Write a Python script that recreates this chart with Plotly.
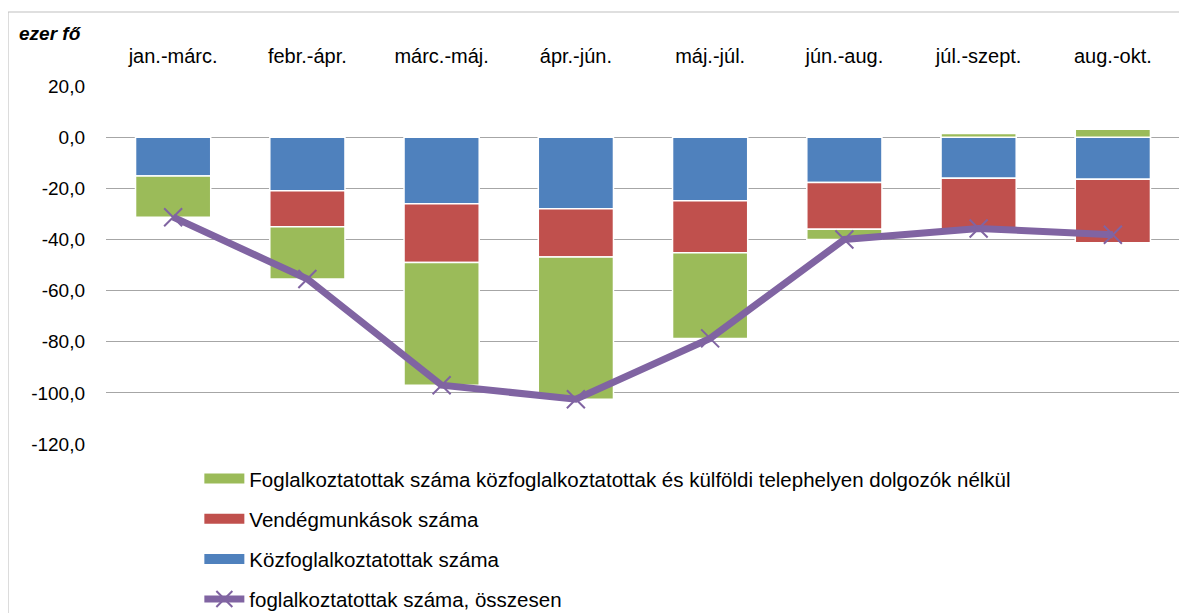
import plotly.graph_objects as go

categories = ["jan.-márc.", "febr.-ápr.", "márc.-máj.", "ápr.-jún.", "máj.-júl.", "jún.-aug.", "júl.-szept.", "aug.-okt."]
kozfoglalkoztatottak = [-15.2, -21.0, -26.0, -28.0, -24.9, -17.7, -16.1, -16.5]
vendegmunkasok = [0.0, -14.0, -23.0, -18.9, -20.3, -18.3, -21.0, -24.8]
foglalkoztatottak_nelkul = [-16.1, -20.5, -48.0, -55.6, -33.5, -4.0, 1.4, 3.1]
osszesen = [-31.3, -55.5, -97.0, -102.5, -78.7, -40.0, -35.7, -38.2]

y_tickvals = [20, 0, -20, -40, -60, -80, -100, -120]
y_ticktext = ["20,0", "0,0", "-20,0", "-40,0", "-60,0", "-80,0", "-100,0", "-120,0"]

names = {
    "green": "Foglalkoztatottak száma közfoglalkoztatottak és külföldi telephelyen dolgozók nélkül",
    "red": "Vendégmunkások száma",
    "blue": "Közfoglalkoztatottak száma",
    "line": "foglalkoztatottak száma, összesen",
}
colors = {"green": "#9BBB59", "red": "#C0504D", "blue": "#4F81BD", "line": "#8064A2"}

FONT = "Liberation Sans, Arial, sans-serif"
bar_line = dict(color="white", width=1.5)

fig = go.Figure()
fig.add_trace(go.Bar(x=categories, y=kozfoglalkoztatottak, name=names["blue"],
                     marker=dict(color=colors["blue"], line=bar_line), showlegend=False))
fig.add_trace(go.Bar(x=categories, y=vendegmunkasok, name=names["red"],
                     marker=dict(color=colors["red"], line=bar_line), showlegend=False))
fig.add_trace(go.Bar(x=categories, y=foglalkoztatottak_nelkul, name=names["green"],
                     marker=dict(color=colors["green"], line=bar_line), showlegend=False))
fig.add_trace(go.Scatter(x=categories, y=osszesen, name=names["line"], mode="lines+markers",
                         line=dict(color=colors["line"], width=7),
                         marker=dict(symbol="x-thin", size=18, color=colors["line"],
                                     line=dict(color=colors["line"], width=2)),
                         legendrank=4, legendgroup="d"))

# legend-only entries with wide swatches, as in the original
for rank, key in enumerate(["green", "red", "blue"], start=1):
    fig.add_trace(go.Scatter(x=[None], y=[None], mode="lines", name=names[key],
                             line=dict(color=colors[key], width=12),
                             legendrank=rank, legendgroup=key, hoverinfo="skip"))

fig.update_layout(
    width=1179, height=605,
    barmode="relative", bargap=0.44,
    plot_bgcolor="white", paper_bgcolor="white",
    font=dict(family=FONT, size=19, color="#000000"),
    margin=dict(l=98, r=7, t=78, b=169, autoexpand=False),
    xaxis=dict(side="top", showgrid=False, showline=False, zeroline=False, automargin=False,
               ticks="", ticklabelstandoff=18, tickfont=dict(size=20)),
    yaxis=dict(range=[-120, 20], tickvals=y_tickvals, ticktext=y_ticktext, showgrid=True,
               gridcolor="#A6A6A6", gridwidth=1, zeroline=False, showline=False, automargin=False,
               ticks="", ticklabelstandoff=20, tickfont=dict(size=19)),
    legend=dict(xref="container", yref="container", x=0.1623, y=0.2549,
                xanchor="left", yanchor="top", itemwidth=40,
                orientation="v", tracegroupgap=10.5, font=dict(size=20.5),
                bgcolor="rgba(0,0,0,0)"),
    annotations=[dict(text="<b><i>ezer fő</i></b>", xref="paper", yref="paper",
                      x=-0.0829, y=1.148, xanchor="left", yanchor="middle",
                      showarrow=False, font=dict(size=19))],
    shapes=[dict(type="rect", xref="paper", yref="paper", x0=-0.0912, x1=1.02,
                 y0=-0.6, y1=1.2067, line=dict(color="#BFBFBF", width=1),
                 fillcolor="rgba(0,0,0,0)", layer="below")],
)

fig.write_html("out.html")
